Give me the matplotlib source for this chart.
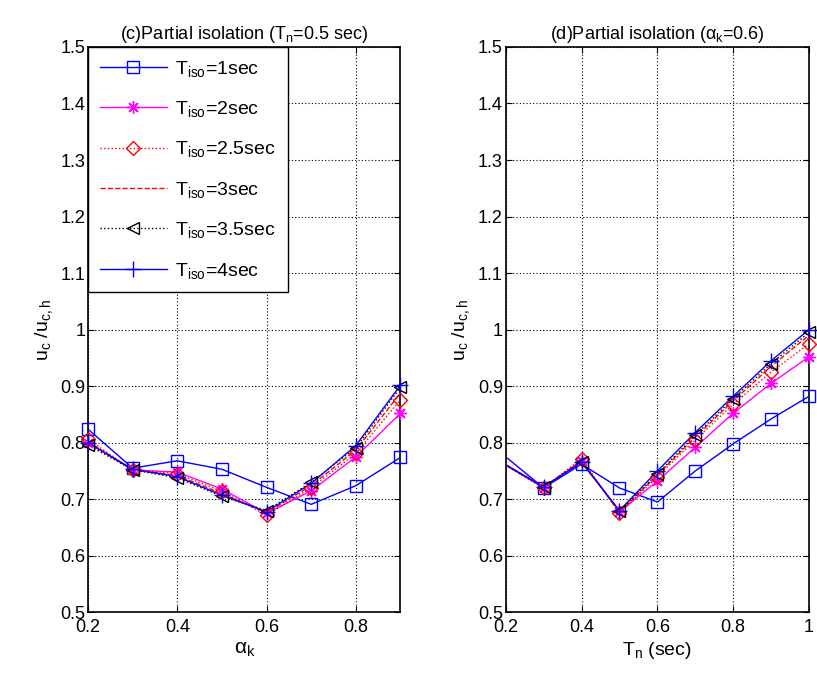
import numpy as np
import matplotlib.pyplot as plt

plt.rcParams['font.family'] = ['Liberation Sans', 'DejaVu Sans']
plt.rcParams['mathtext.fontset'] = 'custom'
plt.rcParams['mathtext.rm'] = 'Liberation Sans'
plt.rcParams['mathtext.it'] = 'Liberation Sans'

# ---- data ----
alpha_k = [0.2, 0.3, 0.4, 0.5, 0.6, 0.7, 0.8, 0.9]
left_vals = {
    '1':   [0.824, 0.755, 0.768, 0.753, 0.721, 0.691, 0.724, 0.774],
    '2':   [0.800, 0.752, 0.748, 0.718, 0.675, 0.715, 0.775, 0.852],
    '2.5': [0.806, 0.752, 0.745, 0.714, 0.672, 0.720, 0.781, 0.876],
    '3':   [0.802, 0.752, 0.742, 0.710, 0.676, 0.724, 0.787, 0.888],
    '3.5': [0.796, 0.752, 0.738, 0.705, 0.680, 0.730, 0.791, 0.898],
    '4':   [0.800, 0.753, 0.740, 0.707, 0.678, 0.728, 0.795, 0.902],
}

T_n = [0.1, 0.3, 0.4, 0.5, 0.6, 0.7, 0.8, 0.9, 1.0]
right_vals = {
    '1':   [0.830, 0.720, 0.762, 0.720, 0.695, 0.750, 0.798, 0.842, 0.882],
    '2':   [0.800, 0.720, 0.768, 0.678, 0.732, 0.792, 0.852, 0.905, 0.952],
    '2.5': [0.800, 0.720, 0.772, 0.675, 0.740, 0.805, 0.868, 0.925, 0.975],
    '3':   [0.800, 0.722, 0.768, 0.677, 0.743, 0.810, 0.874, 0.935, 0.990],
    '3.5': [0.800, 0.721, 0.766, 0.679, 0.745, 0.813, 0.878, 0.940, 0.995],
    '4':   [0.800, 0.722, 0.765, 0.680, 0.750, 0.818, 0.882, 0.945, 1.000],
}

styles = {
    '1':   dict(color='#0000ff', ls='-', marker='s'),
    '2':   dict(color='#ff00ff', ls='-', marker=(8, 2, 0)),
    '2.5': dict(color='#ff0000', ls=':', marker='D'),
    '3':   dict(color='#ff0000', ls='--', marker=None),
    '3.5': dict(color='#000000', ls=':', marker='<'),
    '4':   dict(color='#0000ff', ls='-', marker='+'),
}
msizes = {'s': 9, 'D': 7, '<': 9, '+': 11}

fig = plt.figure(figsize=(8.17, 6.87), dpi=100)
ax1 = fig.add_axes([0.1077, 0.1087, 0.3825, 0.823])
ax2 = fig.add_axes([0.619, 0.1087, 0.3712, 0.823])


def draw(ax, xs, vals, xlim):
    xs = np.array(xs)
    inside = (xs >= xlim[0] - 1e-9) & (xs <= xlim[1] + 1e-9)
    handles = []
    for key, ys in vals.items():
        st = styles[key]
        ys = np.array(ys)
        m = st['marker']
        ms = msizes.get(m, 9) if m is not None else 0
        ax.plot(xs, ys, color=st['color'], ls=st['ls'], lw=1.0, zorder=3)
        if m is not None:
            ax.plot(xs[inside], ys[inside], ls='none', marker=m, ms=ms,
                    mfc='none', mec=st['color'], mew=1.0, clip_on=False, zorder=4)
        h, = ax.plot([], [], color=st['color'], ls=st['ls'], lw=1.0, marker=m,
                     ms=ms, mfc='none', mec=st['color'], mew=1.0)
        handles.append(h)
    ax.set_xlim(*xlim)
    ax.set_ylim(0.5, 1.5)
    ax.set_yticks(np.arange(0.5, 1.51, 0.1))
    ax.set_yticklabels(['0.5', '0.6', '0.7', '0.8', '0.9', '1', '1.1', '1.2', '1.3', '1.4', '1.5'])
    ax.grid(True, color='black', ls=(0, (1, 2)), lw=0.8)
    ax.tick_params(direction='in', labelsize=13, length=4, top=True, right=True)
    ax.tick_params(axis='y', pad=2)
    ax.tick_params(axis='x', pad=5)
    for s in ax.spines.values():
        s.set_linewidth(1.2)
    ax.set_ylabel(r'u$_{\rm c}$ /u$_{\rm c,h}$', fontsize=14, labelpad=4)
    return handles


h = draw(ax1, alpha_k, left_vals, (0.2, 0.9))
ax1.set_xticks([0.2, 0.4, 0.6, 0.8])
ax1.set_xticklabels(['0.2', '0.4', '0.6', '0.8'])
ax1.set_xlabel(r'$\alpha_{\rm k}$', fontsize=15, labelpad=3)
ax1.set_title(r'(c)Partial isolation (T$_{\rm n}$=0.5 sec)', fontsize=13, pad=6)
labels = [r'T$_{\rm iso}$=' + k + 'sec' for k in left_vals]
leg = ax1.legend(h, labels, loc='upper left', fontsize=14, handlelength=3.45,
                 labelspacing=1.05, handletextpad=0.45, borderaxespad=0,
                 fancybox=False, framealpha=1, edgecolor='black', borderpad=0.6)
leg.get_frame().set_linewidth(1.0)

draw(ax2, T_n, right_vals, (0.2, 1.0))
ax2.set_xticks([0.2, 0.4, 0.6, 0.8, 1.0])
ax2.set_xticklabels(['0.2', '0.4', '0.6', '0.8', '1'])
ax2.set_xlabel(r'T$_{\rm n}$ (sec)', fontsize=14, labelpad=3)
ax2.set_title(r'(d)Partial isolation ($\alpha_{\rm k}$=0.6)', fontsize=13, pad=6)

fig.savefig('out.png', dpi=100)
